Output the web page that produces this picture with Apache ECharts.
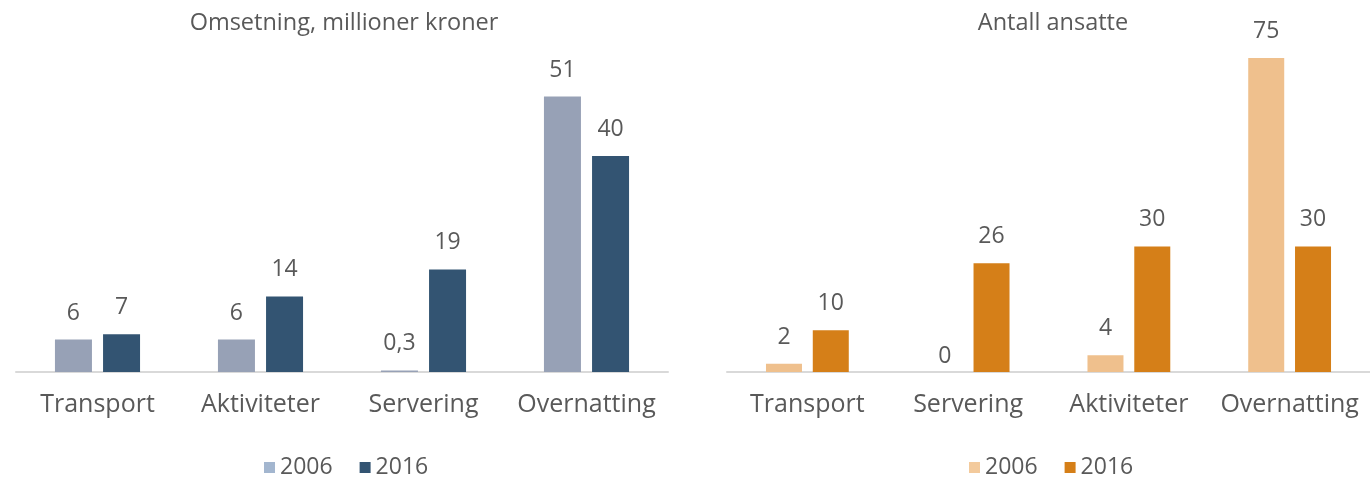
<!DOCTYPE html>
<html>
<head>
<meta charset="utf-8">
<script src="https://cdn.jsdelivr.net/npm/echarts@6/dist/echarts.min.js"></script>
<style>
  html, body { margin: 0; padding: 0; background: #fff; }
  #wrap { position: relative; width: 1370px; height: 477px; }
  #left { position: absolute; left: 0; top: 0; width: 690px; height: 477px; }
  #right { position: absolute; left: 690px; top: 0; width: 680px; height: 477px; }
</style>
</head>
<body>
<div id="wrap">
  <div id="left"></div>
  <div id="right"></div>
</div>
<script>
// Omsetning (millioner kroner)
const revenueCategories = ['Transport', 'Aktiviteter', 'Servering', 'Overnatting'];
const revenue2006 = [6, 6, 0.3, 51];
const revenue2016 = [7, 14, 19, 40];

// Antall ansatte
const staffCategories = ['Transport', 'Servering', 'Aktiviteter', 'Overnatting'];
const staff2006 = [2, 0, 4, 75];
const staff2016 = [10, 26, 30, 30];

const seriesNames = ['2006', '2016'];

const FONT = '"Open Sans", "Noto Sans", sans-serif';
const TEXT = '#595959';

function fmt(v) {
  return String(v).replace('.', ',');
}

function barSeries(name, values, color, width) {
  return {
    name: name,
    type: 'bar',
    barWidth: width,
    barGap: '30%',
    itemStyle: { color: color },
    label: {
      show: true,
      position: 'top',
      distance: 15,
      color: TEXT,
      fontFamily: FONT,
      fontSize: 23,
      formatter: p => fmt(p.value)
    },
    data: values.map(v => v === 0 ? { value: v, label: { distance: 4 } } : v)
  };
}

function buildOption(cfg) {
  return {
    animation: false,
    title: {
      text: cfg.title,
      left: cfg.titleX,
      top: 6,
      textAlign: 'center',
      textStyle: { color: TEXT, fontFamily: FONT, fontSize: 23.5, fontWeight: 'normal' }
    },
    legend: {
      left: cfg.legendX,
      top: 451,
      itemWidth: 11,
      itemHeight: 11,
      itemGap: 27,
      icon: 'rect',
      textStyle: { color: TEXT, fontFamily: FONT, fontSize: 23 },
      data: [
        { name: seriesNames[0], itemStyle: { color: cfg.legendColors[0] } },
        { name: seriesNames[1], itemStyle: { color: cfg.legendColors[1] } }
      ]
    },
    grid: { left: cfg.gridLeft, right: cfg.gridRight, top: cfg.gridTop, bottom: 105 },
    xAxis: {
      type: 'category',
      data: cfg.categories,
      axisLine: { lineStyle: { color: '#D9D9D9', width: 2 } },
      axisTick: { show: false },
      axisLabel: { interval: 0, color: TEXT, fontFamily: FONT, fontSize: 25, margin: 20 }
    },
    yAxis: {
      type: 'value',
      min: 0,
      max: cfg.max,
      show: false,
      splitLine: { show: false }
    },
    series: [
      barSeries(seriesNames[0], cfg.a, cfg.colors[0], cfg.barWidth),
      barSeries(seriesNames[1], cfg.b, cfg.colors[1], cfg.barWidth)
    ]
  };
}

const left = echarts.init(document.getElementById('left'));
left.setOption(buildOption({
  title: 'Omsetning, millioner kroner',
  titleX: 339,
  legendX: 259,
  categories: revenueCategories,
  a: revenue2006,
  b: revenue2016,
  colors: ['#97A1B6', '#335472'],
  legendColors: ['#A3B6CF', '#335472'],
  gridLeft: 16, gridRight: 22, gridTop: 48,
  max: 60,
  barWidth: 37
}));

const right = echarts.init(document.getElementById('right'));
right.setOption(buildOption({
  title: 'Antall ansatte',
  titleX: 358,
  legendX: 274,
  categories: staffCategories,
  a: staff2006,
  b: staff2016,
  colors: ['#EFC08D', '#D57F18'],
  legendColors: ['#F3CA9C', '#D57F18'],
  gridLeft: 37, gridRight: 0, gridTop: 37,
  max: 80,
  barWidth: 36
}));
</script>
</body>
</html>
